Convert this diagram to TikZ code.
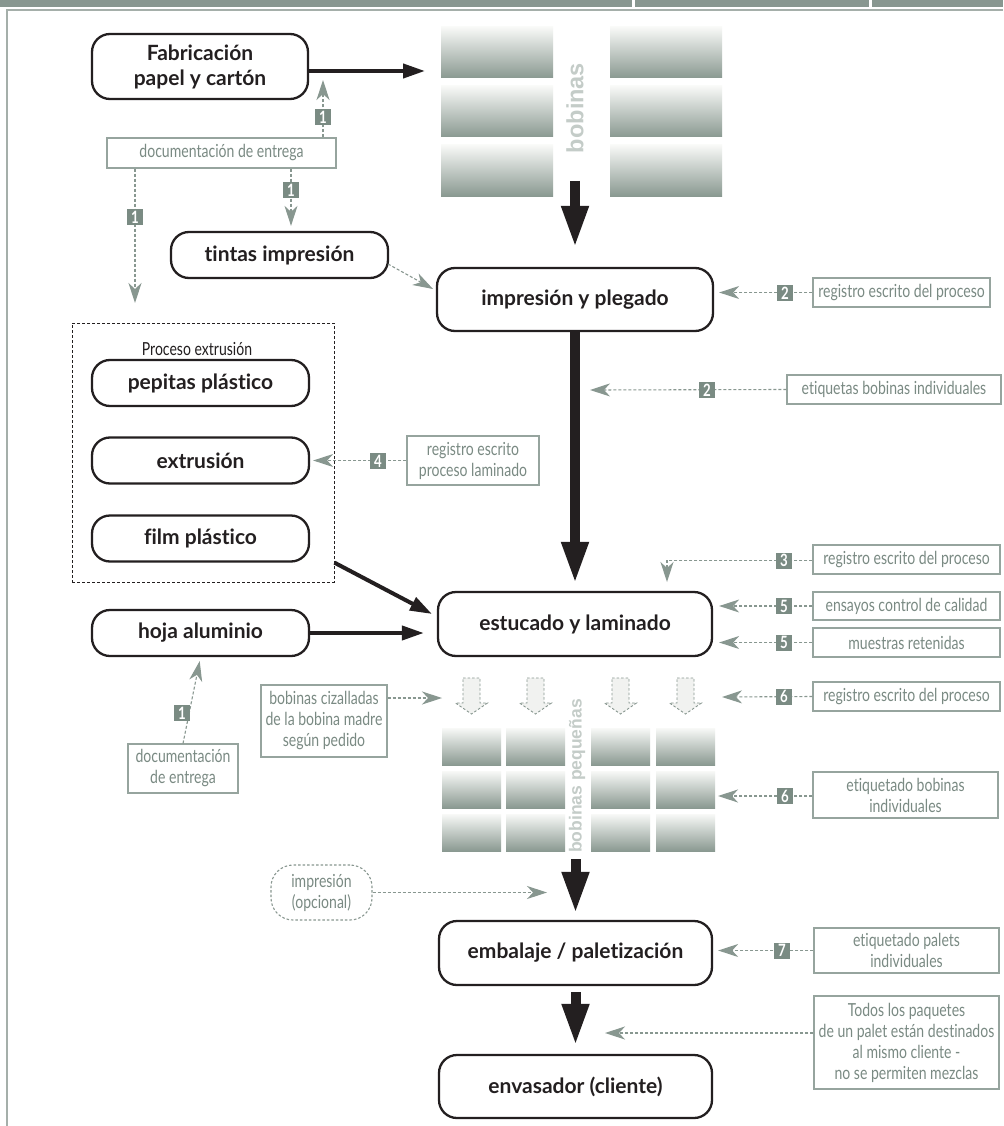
\documentclass[tikz,border=0pt]{standalone}
\usepackage{fontspec}
\setmainfont{Lato}[Ligatures=NoCommon]
\newfontfamily\labfont[FakeStretch=0.78,Ligatures=NoCommon]{Lato}
\newfontfamily\vfont{Liberation Sans}
\usetikzlibrary{arrows.meta}
\definecolor{ink}{RGB}{35,31,32}
\definecolor{sage}{RGB}{136,151,144}
\definecolor{sagetext}{RGB}{122,138,131}
\definecolor{sagebox}{RGB}{150,164,158}
\definecolor{tagc}{RGB}{122,139,131}
\definecolor{vtext}{RGB}{196,204,200}
\definecolor{framec}{RGB}{165,175,170}
\definecolor{blockfill}{RGB}{241,242,240}
\definecolor{bobtop}{RGB}{248,249,247}
\definecolor{bobbot}{RGB}{138,153,145}
\tikzset{
  mainbox/.style={draw=ink, line width=2.3pt, rounded corners=18pt, font=\bfseries\fontsize{21}{25}\selectfont, text=ink, align=center, inner sep=0pt},
  labbox/.style={draw=sagebox, line width=1.1pt, font=\labfont\fontsize{18}{21}\selectfont, text=sagetext, align=center, inner sep=0pt},
  tagbox/.style={fill=tagc, text=white, font=\labfont\bfseries\fontsize{17}{17}\selectfont, minimum width=16pt, minimum height=16pt, inner sep=0pt},
  dconn/.style={draw=sage, line width=1.1pt, dash pattern=on 3pt off 2pt, -{Stealth[length=20pt,width=13pt,inset=6pt]}},
  thickconn/.style={draw=ink, line width=4pt, -{Triangle[length=22pt,width=14pt]}},
  blockarrow/.style={draw=ink, line width=10pt, -{Triangle[length=42pt,width=25pt]}},
  bob/.style={top color=bobtop, bottom color=bobbot, draw=none},
}
\begin{document}
\begin{tikzpicture}[x=1pt,y=-1pt]
\useasboundingbox (0,0) rectangle (1003,1126);
\fill[white] (0,0) rectangle (1003,1126);
% top band and frame
\fill[sage] (0,0) rectangle (1003,7);
\fill[white] (632,0) rectangle (635,7);
\fill[white] (869,0) rectangle (872,7);
\draw[framec, line width=1.3pt] (7,1126) -- (7,10) -- (1003,10);

% big bobinas
\foreach \xa/\xb in {441/553,610/722}{
  \foreach \ya/\yb in {27/78,86/137,145/196}{
    \shade[bob] (\xa,\ya) rectangle (\xb,\yb);
  }
}
\node[rotate=90, font=\vfont\bfseries\fontsize{23.5}{24}\selectfont, text=vtext, inner sep=0pt] (bobtxt) at (575,108) {bobinas};

% small bobinas
\foreach \xa/\xb in {442/501,506/565,591/650,656/715}{
  \foreach \ya/\yb in {728/765,771/808,814/851}{
    \shade[bob] (\xa,\ya) rectangle (\xb,\yb);
  }
}
\node[rotate=90, font=\vfont\bfseries\fontsize{17.5}{18}\selectfont, text=vtext, inner sep=0pt] (smalltxt) at (577,776) {bobinas pequeñas};

% small dashed block arrows
\foreach \cx in {471.5,535.5,620.5,685.5}{
  \draw[sage, fill=blockfill, line width=0.9pt, dash pattern=on 2.5pt off 2pt]
    (\cx-8.5,678) -- (\cx+8.5,678) -- (\cx+8.5,703) -- (\cx+16,703) -- (\cx,714) -- (\cx-16,703) -- (\cx-8.5,703) -- cycle;
}

% group box
\node[draw=ink, line width=0.9pt, dash pattern=on 3pt off 2pt, minimum width=262pt, minimum height=259pt, inner sep=0pt] (grp) at (203,452.5) {};
\node[font=\labfont\fontsize{18}{20}\selectfont, text=ink, inner sep=0pt] (grptitle) at (197,349) {Proceso extrusión};

% main boxes
\node[mainbox, minimum width=216pt, minimum height=65pt] (fab) at (200,66.5) {Fabricación\\papel y cartón};
\node[mainbox, minimum width=217pt, minimum height=46pt] (tintas) at (279.5,255) {tintas impresión};
\node[mainbox, minimum width=276pt, minimum height=63pt] (imp) at (575,299.5) {impresión y plegado};
\node[mainbox, minimum width=217pt, minimum height=46pt] (pep) at (200.5,383) {pepitas plástico};
\node[mainbox, minimum width=217pt, minimum height=46pt] (ext) at (200.5,460.5) {extrusión};
\node[mainbox, minimum width=217pt, minimum height=46pt] (film) at (200.5,538.5) {film plástico};
\node[mainbox, minimum width=217pt, minimum height=46pt] (hoja) at (200.5,633) {hoja aluminio};
\node[mainbox, minimum width=274pt, minimum height=64pt] (est) at (575,624) {estucado y laminado};
\node[mainbox, minimum width=273pt, minimum height=64pt] (emb) at (575.5,953) {embalaje / paletización};
\node[mainbox, minimum width=273pt, minimum height=63pt] (env) at (575.5,1086.5) {envasador (cliente)};

% label boxes
\node[labbox, minimum width=229pt, minimum height=30pt] (doc1) at (221.5,153) {documentación de entrega};
\node[labbox, minimum width=177pt, minimum height=29pt] (reg2) at (901.5,292.5) {registro escrito del proceso};
\node[labbox, minimum width=214pt, minimum height=29pt] (etiq2) at (894,389.5) {etiquetas bobinas individuales};
\node[labbox, minimum width=132pt, minimum height=49pt] (reg4) at (473,460.5) {registro escrito\\proceso laminado};
\node[labbox, minimum width=187pt, minimum height=29pt] (reg3) at (906.5,559.5) {registro escrito del proceso};
\node[labbox, minimum width=187pt, minimum height=28pt] (ens5) at (906.5,606) {ensayos control de calidad};
\node[labbox, minimum width=187pt, minimum height=29pt] (mue5) at (906.5,642.5) {muestras retenidas};
\node[labbox, minimum width=187pt, minimum height=29pt] (reg6) at (906.5,696.5) {registro escrito del proceso};
\node[labbox, minimum width=185pt, minimum height=46pt] (eti6) at (905.5,795) {etiquetado bobinas\\individuales};
\node[labbox, minimum width=126pt, minimum height=72pt] (biz) at (324,721) {bobinas cizalladas\\de la bobina madre\\según pedido};
\node[labbox, minimum width=110pt, minimum height=49pt] (doc2) at (183,768.5) {documentación\\de entrega};
\node[labbox, draw=sage, dash pattern=on 2.5pt off 2pt, rounded corners=22pt, minimum width=101pt, minimum height=55pt] (impop) at (321.5,892.5) {impresión\\(opcional)};
\node[labbox, minimum width=185pt, minimum height=45pt] (etp7) at (906.5,950.5) {etiquetado palets\\individuales};
\node[labbox, minimum width=185pt, minimum height=93pt] (todos) at (906.5,1042.5) {Todos los paquetes\\de un palet están destinados\\al mismo cliente -\\no se permiten mezclas};

% coordinates for free ends
\coordinate (bobL) at (425,71);
\coordinate (bobS) at (575,181);
\coordinate (smallS) at (575.5,859);
\coordinate (filmT) at (432,614);
\coordinate (fabT) at (323,80);
\coordinate (leftT) at (135,303);
\coordinate (etiqT) at (590,390);
\coordinate (c3) at (667,560.5);
\coordinate (c3T) at (667,582);
\coordinate (reg6T) at (722,697);
\coordinate (eti6T) at (718,796);
\coordinate (bizT) at (442,698);
\coordinate (impopT) at (547,892.5);
\coordinate (todosT) at (605,1033);
\coordinate (embS) at (575.5,992);
\coordinate (tintasS) at (388,264);
\coordinate (tintasT) at (433,289);
\coordinate (colT) at (291,0);

% thick black connectors
\draw[thickconn] (fab.east |- bobL) -- (bobL);
\draw[thickconn] (grp.east |- film.south) -- (filmT);
\draw[thickconn, shorten >=13pt] (hoja.east) -- (est.west |- hoja.east);
\draw[blockarrow, shorten >=19pt] (bobS) -- (imp.north);
\draw[blockarrow, shorten >=7pt] (imp.south) -- (est.north);
\draw[blockarrow, shorten >=6pt] (smallS) -- (emb.north);
\draw[blockarrow, shorten >=8pt] (embS) -- (env.north);

% dashed grey connectors
\draw[dconn] (doc1.north -| fabT) -- (fabT);
\draw[dconn, shorten >=5pt] (doc1.south -| colT) -- (tintas.north -| colT);
\draw[dconn] (doc1.south -| leftT) -- (leftT);
\draw[dconn, shorten >=4pt] (doc2.north) -- (hoja.south);
\draw[dconn] (tintasS) -- (tintasT);
\draw[dconn, shorten >=5pt] (reg2.west) -- (reg2.west -| imp.east);
\draw[dconn] (etiq2.west) -- (etiqT);
\draw[dconn, shorten >=3pt] (reg4.west) -- (ext.east);
\draw[dconn] (reg3.west |- c3) -- (c3) -- (c3T);
\draw[dconn, shorten >=6pt] (ens5.west) -- (ens5.west -| est.east);
\draw[dconn, shorten >=6pt] (mue5.west) -- (mue5.west -| est.east);
\draw[dconn] (reg6.west) -- (reg6T);
\draw[dconn] (eti6.west |- eti6T) -- (eti6T);
\draw[dconn] (biz.east |- bizT) -- (bizT);
\draw[dconn] (impop.east) -- (impopT);
\draw[dconn, shorten >=5pt] (etp7.west) -- (etp7.west -| emb.east);
\draw[dconn] (todos.west |- todosT) -- (todosT);

% tags
\node[tagbox] (t1a) at (323,117) {1};
\node[tagbox] (t1b) at (291,190) {1};
\node[tagbox] (t1c) at (135,217) {1};
\node[tagbox] (t1d) at (182,713) {1};
\node[tagbox] (t2a) at (785,293) {2};
\node[tagbox] (t2b) at (707,390) {2};
\node[tagbox] (t4) at (378,461) {4};
\node[tagbox] (t3) at (784,560.5) {3};
\node[tagbox] (t5a) at (784,606) {5};
\node[tagbox] (t5b) at (784,642.5) {5};
\node[tagbox] (t6a) at (784,696.5) {6};
\node[tagbox] (t6b) at (785,796) {6};
\node[tagbox] (t7) at (782,950.5) {7};
\end{tikzpicture}
\end{document}
